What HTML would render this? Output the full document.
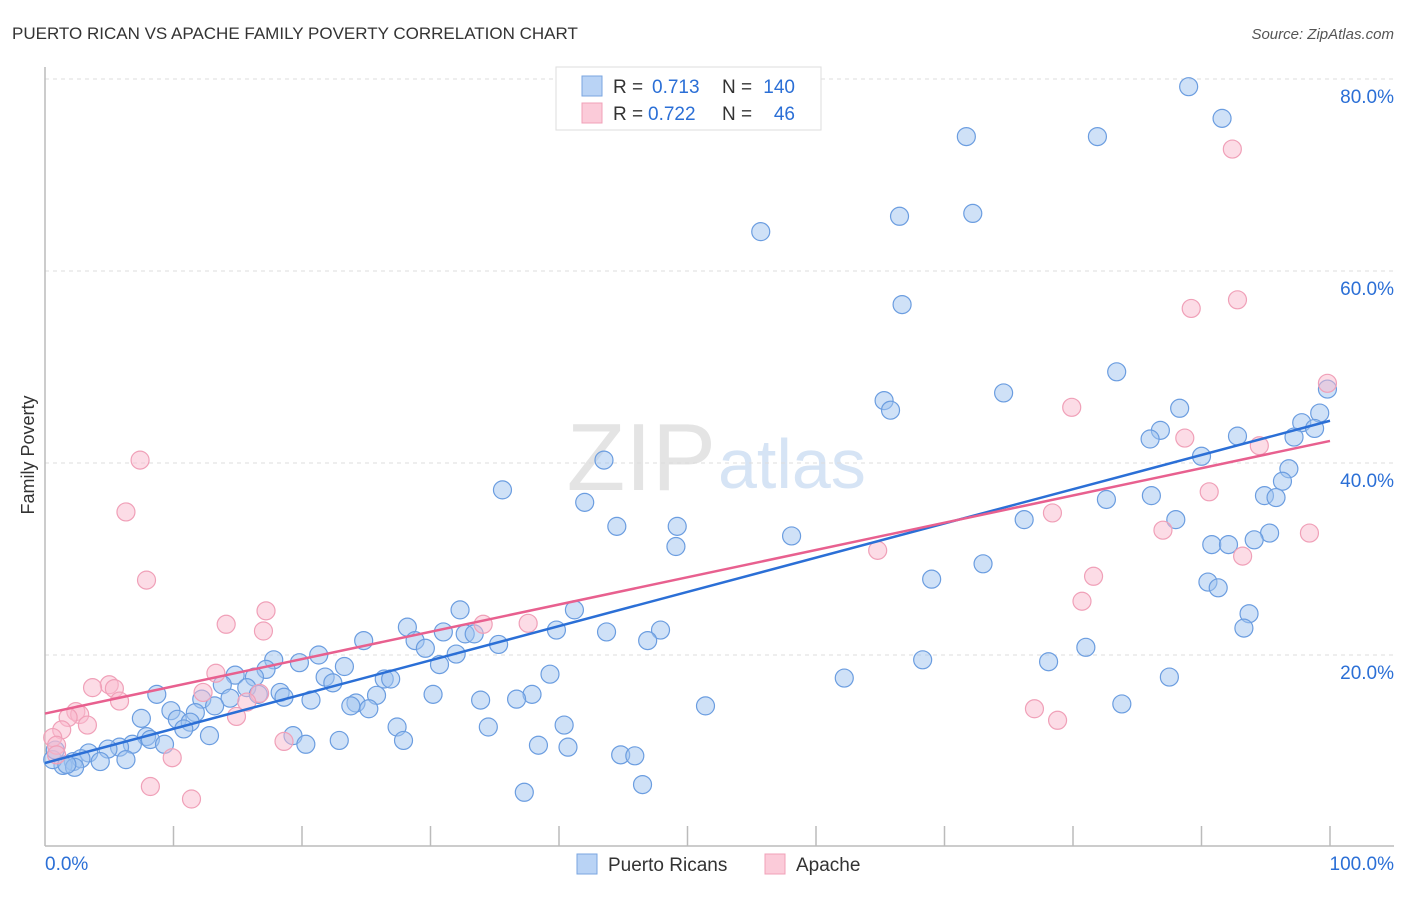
<!DOCTYPE html>
<html><head><meta charset="utf-8"><style>
body{margin:0;background:#fff;font-family:"Liberation Sans",sans-serif}
svg text{font-family:"Liberation Sans",sans-serif}
</style></head><body>
<svg id="chart" width="1406" height="892">
<text x="12" y="39" font-size="17" fill="#333">PUERTO RICAN VS APACHE FAMILY POVERTY CORRELATION CHART</text>
<text x="1394" y="39" font-size="15" fill="#555" font-style="italic" text-anchor="end">Source: ZipAtlas.com</text>
<text x="716" y="490" font-size="96" fill="#e4e4e4" text-anchor="end" font-family="Liberation Serif">ZIP</text>
<text x="718" y="488" font-size="70" fill="#d6e4f5">atlas</text>
<g id="grid"></g><g id="axes"></g><g id="pts"></g><g id="lines"></g>
<text x="34" y="455" font-size="18" fill="#333" text-anchor="middle" transform="rotate(-90 34 455)">Family Poverty</text>
<g>
<rect x="556" y="67" width="265" height="63" fill="#fff" stroke="#ddd"/>
<rect x="582" y="76" width="20" height="20" fill="#b9d3f5" stroke="#7aa6e0"/>
<rect x="582" y="103" width="20" height="20" fill="#fbcbd9" stroke="#f0a0b8"/>
<text x="613" y="93" font-size="19" fill="#333">R =</text>
<text x="652" y="93" font-size="19" fill="#2b6fd6">0.713</text>
<text x="722" y="93" font-size="19" fill="#333">N =</text>
<text x="795" y="93" font-size="19" fill="#2b6fd6" text-anchor="end">140</text>
<text x="613" y="120" font-size="19" fill="#333">R =</text>
<text x="648" y="120" font-size="19" fill="#2b6fd6">0.722</text>
<text x="722" y="120" font-size="19" fill="#333">N =</text>
<text x="795" y="120" font-size="19" fill="#2b6fd6" text-anchor="end">46</text>
</g>
<g>
<rect x="577" y="854" width="20" height="20" fill="#b9d3f5" stroke="#7aa6e0"/>
<text x="608" y="871" font-size="19" fill="#333">Puerto Ricans</text>
<rect x="765" y="854" width="20" height="20" fill="#fbcbd9" stroke="#f0a0b8"/>
<text x="796" y="871" font-size="19" fill="#333">Apache</text>
</g>
</svg>
<script>
const yTicks=[20,40,60,80];
const yTickLabels=["20.0%","40.0%","60.0%","80.0%"];
const xTicks=[0,10,20,30,40,50,60,70,80,90,100];
const blueX=[89.0,91.6,71.7,81.9,55.7,66.5,72.2,66.7,83.4,99.8,74.6,65.3,65.8,88.3,99.2,97.8,98.8,97.2,92.8,86.8,86.0,90.0,96.8,96.3,43.5,35.6,94.9,95.8,86.1,82.6,42.0,88.0,76.2,44.5,49.2,95.3,94.1,58.1,90.8,92.1,49.1,73.0,69.0,90.5,91.3,93.7,93.3,32.3,41.2,28.2,31.0,32.7,33.4,39.8,43.7,47.9,24.8,28.8,29.6,35.3,46.9,32.0,21.3,81.0,68.3,78.1,17.8,19.8,23.3,30.7,17.2,14.8,16.3,21.8,22.4,26.4,26.9,39.3,62.2,87.5,13.8,15.7,8.7,18.3,16.6,18.6,25.8,30.2,37.9,20.7,24.2,12.2,14.4,33.9,36.7,23.8,25.2,13.2,9.8,51.4,83.8,11.7,7.5,10.3,11.3,10.8,34.5,40.4,27.4,19.3,12.8,7.9,8.2,22.9,27.9,20.3,9.3,6.8,38.4,40.7,5.8,4.9,3.4,44.8,45.9,6.3,4.3,2.2,2.8,1.4,0.6,0.8,2.3,1.7,46.5,37.3];
const blueY=[79.2,75.9,74.0,74.0,64.1,65.7,66.0,56.5,49.5,47.7,47.3,46.5,45.5,45.7,45.2,44.2,43.6,42.7,42.8,43.4,42.5,40.7,39.4,38.1,40.3,37.2,36.6,36.4,36.6,36.2,35.9,34.1,34.1,33.4,33.4,32.7,32.0,32.4,31.5,31.5,31.3,29.5,27.9,27.6,27.0,24.3,22.8,24.7,24.7,22.9,22.4,22.2,22.2,22.6,22.4,22.6,21.5,21.5,20.7,21.1,21.5,20.1,20.0,20.8,19.5,19.3,19.5,19.2,18.8,19.0,18.5,17.9,17.7,17.7,17.1,17.5,17.5,18.0,17.6,17.7,16.9,16.6,15.9,16.1,15.9,15.6,15.8,15.9,15.9,15.3,15.0,15.4,15.5,15.3,15.4,14.7,14.4,14.7,14.2,14.7,14.9,14.0,13.4,13.3,13.0,12.3,12.5,12.7,12.5,11.6,11.6,11.5,11.2,11.1,11.1,10.7,10.7,10.7,10.6,10.4,10.4,10.2,9.8,9.6,9.5,9.1,8.9,8.9,9.2,8.5,9.1,10.1,8.3,8.6,6.5,5.7];
const pinkX=[92.4,92.8,89.2,99.8,79.9,88.7,94.5,7.4,90.6,6.3,78.4,87.0,98.4,64.8,93.2,7.9,81.6,80.7,17.2,14.1,17.0,34.1,37.6,13.3,5.0,3.7,5.4,12.3,16.7,5.8,15.7,2.4,2.7,1.8,3.3,77.0,78.8,14.9,1.3,0.6,0.9,18.6,9.9,8.2,11.4,0.9];
const pinkY=[72.7,57.0,56.1,48.3,45.8,42.6,41.8,40.3,37.0,34.9,34.8,33.0,32.7,30.9,30.3,27.8,28.2,25.6,24.6,23.2,22.5,23.2,23.3,18.1,16.9,16.6,16.5,16.1,16.0,15.2,15.1,14.1,13.8,13.5,12.7,14.4,13.2,13.6,12.2,11.4,10.6,11.0,9.3,6.3,5.0,9.6];
const blueTrend=[8.75,44.4];
const pinkTrend=[13.9,42.3];
const NS="http://www.w3.org/2000/svg";
const X=v=>45+v*12.85, Y=v=>847-v*9.6;
function mk(tag,attrs,parent){const e=document.createElementNS(NS,tag);for(const k in attrs)e.setAttribute(k,attrs[k]);parent.appendChild(e);return e;}
const gridG=document.getElementById('grid'),axesG=document.getElementById('axes'),ptsG=document.getElementById('pts'),linesG=document.getElementById('lines');
yTicks.forEach((t,i)=>{
 const l=mk('line',{x1:45,x2:1394,y1:Y(t),y2:Y(t),stroke:'#ddd','stroke-dasharray':'4,4'},gridG);
 
 
 const tx=mk('text',{x:1394,y:Y(t)+24,'font-size':19,fill:'#2b6fd6','text-anchor':'end'},gridG);
 tx.textContent=yTickLabels[i];
 
 
});
const topGrid=mk('line',{x1:45,x2:1394,y1:79,y2:79,stroke:'#ddd','stroke-dasharray':'4,4'},gridG);


const ya=mk('line',{x1:45,x2:45,y1:67,y2:846,stroke:'#bbb','stroke-width':1.5},axesG);


const xa=mk('line',{x1:45,x2:1394,y1:846,y2:846,stroke:'#bbb','stroke-width':1.5},axesG);


xTicks.forEach(t=>{if(t===0)return;
 const l=mk('line',{x1:X(t),x2:X(t),y1:826,y2:846,stroke:'#bbb','stroke-width':1.5},axesG);
 
 
});
[["0.0%",45,'start'],["100.0%",1394,'end']].forEach(a=>{
 const tx=mk('text',{x:a[1],y:870,'font-size':19,fill:'#2b6fd6','text-anchor':a[2]},axesG);
 tx.textContent=a[0];
 
 
});
blueX.forEach((v,i)=>{
 const c=mk('circle',{cx:X(v),cy:Y(blueY[i]),r:9,fill:'rgba(160,195,240,0.5)',stroke:'#6b9de0','stroke-width':1.2},ptsG);
 
 
});
pinkX.forEach((v,i)=>{
 const c=mk('circle',{cx:X(v),cy:Y(pinkY[i]),r:9,fill:'rgba(250,185,205,0.5)',stroke:'#f0a0b8','stroke-width':1.2},ptsG);
 
 
});
const bl=mk('line',{x1:X(0),y1:Y(blueTrend[0]),x2:X(100),y2:Y(blueTrend[1]),stroke:'#2b6fd6','stroke-width':2.5},linesG);


const pl=mk('line',{x1:X(0),y1:Y(pinkTrend[0]),x2:X(100),y2:Y(pinkTrend[1]),stroke:'#e8608f','stroke-width':2.5},linesG);


</script>
</body></html>
